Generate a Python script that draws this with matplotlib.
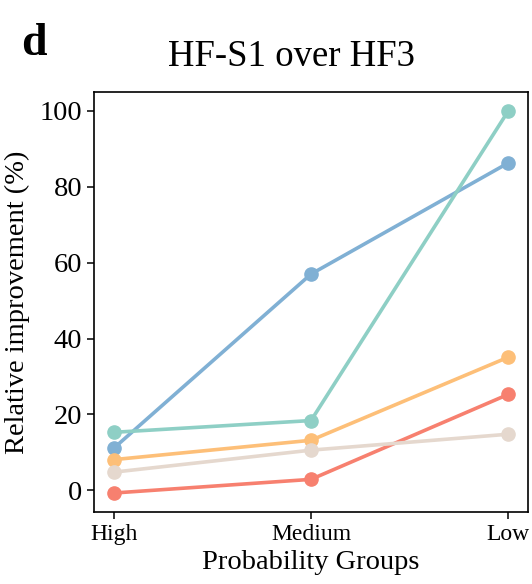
import matplotlib
matplotlib.use('Agg')
import matplotlib.pyplot as plt

# Data
groups = ["High", "Medium", "Low"]
blue_vals = [11.1, 57.0, 86.3]
teal_vals = [15.3, 18.4, 100.0]
orange_vals = [8.1, 13.2, 35.1]
red_vals = [-0.7, 2.9, 25.3]
beige_vals = [4.8, 10.6, 14.8]

series = [
    (blue_vals, "#80b0d4"),
    (teal_vals, "#8ecfc5"),
    (orange_vals, "#fdbf78"),
    (red_vals, "#f7806f"),
    (beige_vals, "#e5d8ce"),
]

plt.rcParams['font.family'] = ['Liberation Serif', 'DejaVu Serif']

fig = plt.figure(figsize=(5.32, 5.84), dpi=100)
ax = fig.add_axes([0.1767, 0.1233, 0.8158, 0.7192])

x = list(range(len(groups)))
for vals, color in series:
    ax.plot(x, vals, color=color, linewidth=2.6, marker='o', markersize=9.5)

ax.set_xlim(-0.1, 2.1)
ax.set_ylim(-5.7, 105)
ax.set_xticks(x)
ax.set_xticklabels(groups, fontsize=17)
ax.set_yticks([0, 20, 40, 60, 80, 100])
ax.tick_params(axis='y', labelsize=20.5, length=5, width=1.1)
ax.tick_params(axis='x', length=5, width=1.1)
for s in ax.spines.values():
    s.set_linewidth(1.2)

ax.set_xlabel("Probability Groups", fontsize=20.5, labelpad=4)
ax.set_ylabel("Relative improvement (%)", fontsize=20.5, labelpad=7)
fig.text(291 / 532, 1 - 57 / 584, "HF-S1 over HF3", fontsize=26.5,
         ha='center', va='center')
fig.text(0.04, 0.905, "d", fontsize=33, fontweight='bold')

fig.savefig("out.png", dpi=100)
